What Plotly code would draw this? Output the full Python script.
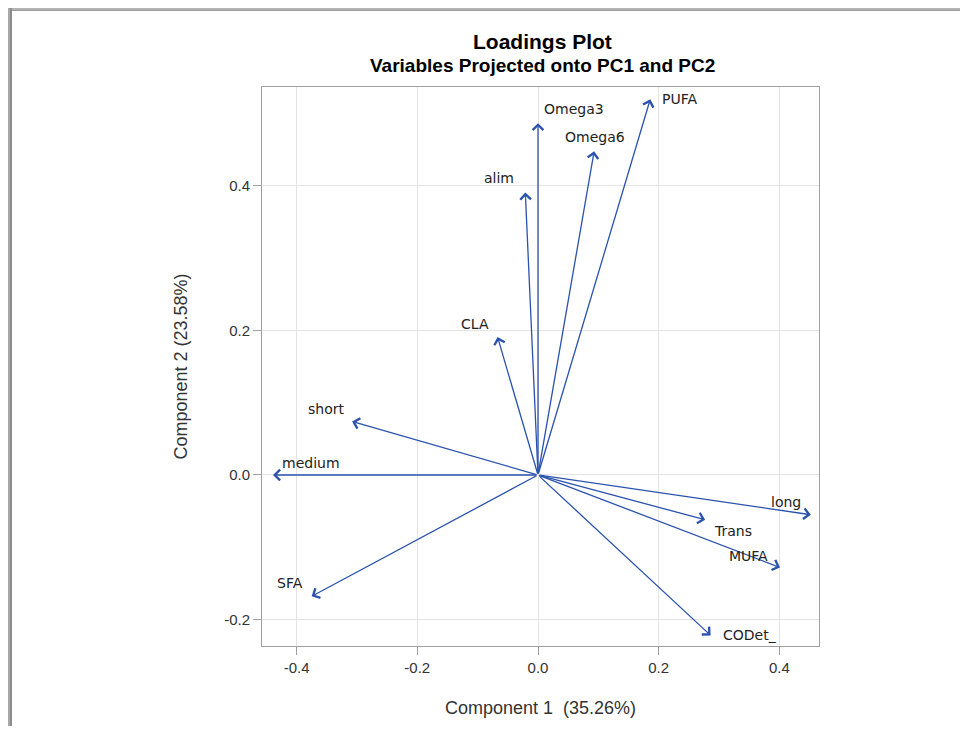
import plotly.graph_objects as go

# ---- data ----
variables = ["PUFA", "Omega3", "Omega6", "alim", "CLA", "short", "medium",
             "SFA", "long", "Trans", "MUFA", "CODet_"]
pc1 = [0.186, 0.000, 0.093, -0.021, -0.067, -0.308, -0.439,
       -0.375, 0.452, 0.277, 0.401, 0.286]
pc2 = [0.520, 0.487, 0.448, 0.391, 0.191, 0.074, 0.000,
       -0.168, -0.055, -0.062, -0.128, -0.222]
x_ticks = [-0.4, -0.2, 0.0, 0.2, 0.4]
y_ticks = [-0.2, 0.0, 0.2, 0.4]
x_title = "Component 1  (35.26%)"
y_title = "Component 2 (23.58%)"
title = "Loadings Plot"
subtitle = "Variables Projected onto PC1 and PC2"

# ---- label placement styles (anchor, xshift, yshift in px) ----
label_style = {
    "PUFA": ("left", 10, 0),
    "Omega3": ("left", 4, 14),
    "Omega6": ("center", 1, 14),
    "alim": ("right", -9, 14),
    "CLA": ("right", -7, 13),
    "short": ("right", -6, 13),
    "medium": ("left", 7, 12),
    "SFA": ("right", -7, 13),
    "long": ("right", -8, 13),
    "Trans": ("left", 7, -11),
    "MUFA": ("right", -10, 11),
    "CODet_": ("left", 10, 0),
}

ARROW = "#2A52AE"
FONT = "Liberation Sans, Arial, sans-serif"
LABEL_FONT = "DejaVu Sans, Verdana, sans-serif"

# page body adds an 8px margin; the figure is sized so the plot lands in place
OFF = 8
W, H = 968 - 2 * OFF, 734 - 2 * OFF
L, R, T, B = 262 - OFF, 819 - OFF, 87 - OFF, 646 - OFF

fig = go.Figure()
fig.add_trace(go.Scatter(x=pc1, y=pc2, mode="markers",
                         marker=dict(size=1, opacity=0), hoverinfo="skip",
                         showlegend=False))

annotations = []
for name, x, y in zip(variables, pc1, pc2):
    annotations.append(dict(
        x=x, y=y, ax=0, ay=0, xref="x", yref="y", axref="x", ayref="y",
        showarrow=True, arrowhead=4, arrowsize=1.6, arrowwidth=1.3,
        arrowcolor=ARROW, text=""))
    anchor, xs, ys = label_style[name]
    annotations.append(dict(
        x=x, y=y, xref="x", yref="y", text=name, showarrow=False,
        xanchor=anchor, yanchor="middle", xshift=xs, yshift=ys,
        font=dict(family=LABEL_FONT, size=14, color="#222222")))

annotations.append(dict(
    x=0.5, y=1, xref="paper", yref="paper", text="<b>" + title + "</b>",
    showarrow=False, xanchor="center", yanchor="middle", yshift=46, xshift=2,
    font=dict(family=FONT, size=21, color="#000000")))
annotations.append(dict(
    x=0.5, y=1, xref="paper", yref="paper", text="<b>" + subtitle + "</b>",
    showarrow=False, xanchor="center", yanchor="middle", yshift=22, xshift=2,
    font=dict(family=FONT, size=19, color="#000000")))

def px(x):
    return (x - L) / (R - L)
def py(y):
    return (B - y) / (B - T)

# screenshot frame (shadow bands at left and top)
shapes = []
for y0, y1, c in [(0, 2, "#b4b4b4"), (2, 3, "#9a9a9a")]:
    shapes.append(dict(type="rect", xref="paper", yref="paper",
                       x0=px(0), x1=px(W), y0=py(y1), y1=py(y0),
                       fillcolor=c, line=dict(width=0), layer="above"))
for x0, x1, c in [(0, 2, "#a8a8a8"), (2, 4, "#8c8c8c")]:
    shapes.append(dict(type="rect", xref="paper", yref="paper",
                       x0=px(x0), x1=px(x1), y0=py(H), y1=py(0),
                       fillcolor=c, line=dict(width=0), layer="above"))

axis_common = dict(
    showgrid=True, gridcolor="#e4e4e4", gridwidth=1,
    zeroline=False, showline=True, linecolor="#a0a0a0", linewidth=1,
    mirror=True, ticks="outside", ticklen=8, tickcolor="#a0a0a0",
    tickfont=dict(family=FONT, size=15, color="#333333"),
)

fig.update_layout(
    width=W, height=H, autosize=False,
    margin=dict(l=L, r=W - R, t=T, b=H - B, pad=0),
    paper_bgcolor="white", plot_bgcolor="white",
    annotations=annotations, shapes=shapes, showlegend=False,
    xaxis=dict(range=[-0.4573, 0.4656], tickvals=x_ticks,
               ticktext=[f"{v:.1f}" for v in x_ticks],
               title=dict(text=x_title, standoff=26,
                          font=dict(family=FONT, size=18, color="#333333")),
               **axis_common),
    yaxis=dict(range=[-0.2367, 0.537], tickvals=y_ticks,
               ticktext=[f"{v:.1f}" for v in y_ticks],
               title=dict(text=y_title, standoff=31,
                          font=dict(family=FONT, size=18, color="#333333")),
               **axis_common),
)

fig.write_html("out.html")
